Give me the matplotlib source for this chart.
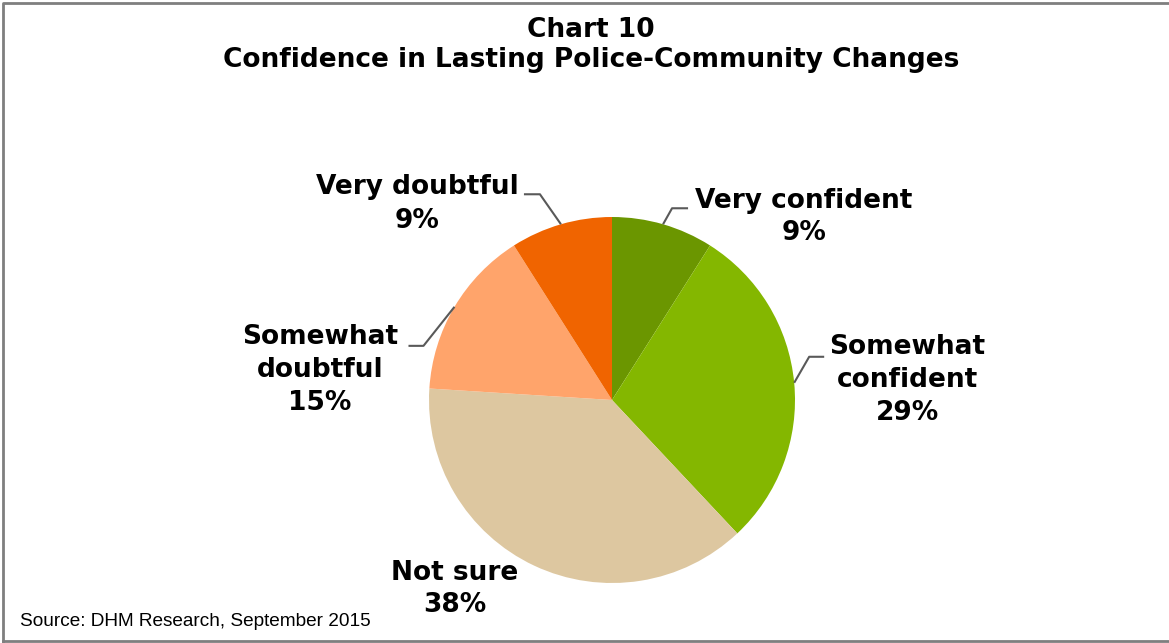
"""Pie chart: confidence in lasting police-community changes."""

import numpy as np
import matplotlib.pyplot as plt

labels = ["Very confident", "Somewhat\nconfident", "Not sure", "Somewhat\ndoubtful", "Very doubtful"]
shares = [9, 29, 38, 15, 9]
colors = ["#6b9600", "#84b700", "#ddc7a0", "#ffa46b", "#f06400"]

W, H = 1169, 643
CX, CY, R = 612, H - 400, 183

# label centre (px) and leader elbow/end offsets relative to the wedge edge point
label_pos = [(804, 217), (907, 380), (455, 589), (320, 370), (417, 204)]
leaders = [
    [(9, 16), (25, 16)],
    [(15, 26), (30, 26)],
    None,
    [(-31, -39), (-46, -39)],
    [(-21, 30), (-37, 30)],
]


def main():
    fig = plt.figure(figsize=(W / 100, H / 100), dpi=100)
    ax = fig.add_axes([0, 0, 1, 1])

    wedges, _ = ax.pie(
        shares,
        colors=colors,
        startangle=90,
        counterclock=False,
        center=(CX, CY),
        radius=R,
        frame=True,
        wedgeprops=dict(linewidth=0),
    )
    ax.set_xlim(0, W)
    ax.set_ylim(0, H)
    ax.set_aspect("equal")
    ax.axis("off")

    for w, lab, pct, (lx, ly), ld in zip(wedges, labels, shares, label_pos, leaders):
        ang = np.deg2rad((w.theta1 + w.theta2) / 2)
        ex, ey = CX + R * np.cos(ang), CY + R * np.sin(ang)
        if ld:
            xs = [ex] + [ex + dx for dx, dy in ld]
            ys = [ey] + [ey + dy for dx, dy in ld]
            ax.plot(xs, ys, color="#595959", lw=1.5, solid_capstyle="butt")
        ax.text(lx, H - ly, f"{lab}\n{pct}%", ha="center", va="center",
                fontsize=19, fontweight="bold", family="DejaVu Sans",
                linespacing=1.35, color="black")

    ax.text(591, H - 45, "Chart 10\nConfidence in Lasting Police-Community Changes",
            ha="center", va="center", fontsize=19, fontweight="bold",
            family="DejaVu Sans", linespacing=1.2)

    ax.text(20, H - 622, "Source: DHM Research, September 2015", ha="left",
            va="center", fontsize=13.7, family="Liberation Sans")

    # outer chart border
    ax.plot([2.5, 2.5, W + 5], [-5, H - 2.5, H - 2.5], color="#7f7f7f", lw=2, clip_on=False)
    ax.plot([2.5, W + 5], [2, 2], color="#7f7f7f", lw=2, clip_on=False)

    fig.savefig("out.png", dpi=100)


if __name__ == "__main__":
    main()
